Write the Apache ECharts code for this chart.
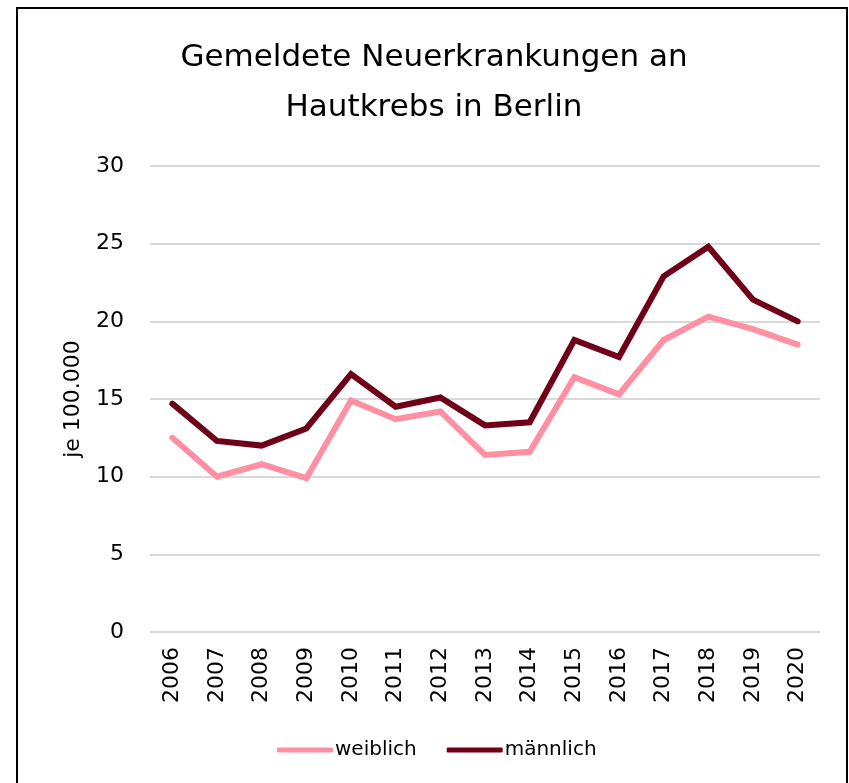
<!DOCTYPE html>
<html>
<head>
<meta charset="utf-8">
<script src="https://cdn.jsdelivr.net/npm/echarts@6/dist/echarts.min.js"></script>
<style>
html,body{margin:0;padding:0;background:#fff;}
#chart{width:849px;height:783px;}
</style>
</head>
<body>
<div id="chart"></div>
<script>
const years = ['2006','2007','2008','2009','2010','2011','2012','2013','2014','2015','2016','2017','2018','2019','2020'];
const weiblich = [12.5, 10.0, 10.8, 9.9, 14.9, 13.7, 14.2, 11.4, 11.6, 16.4, 15.3, 18.8, 20.3, 19.5, 18.5];
const maennlich = [14.7, 12.3, 12.0, 13.1, 16.6, 14.5, 15.1, 13.3, 13.5, 18.8, 17.7, 22.9, 24.8, 21.4, 20.0];
const yTicks = [0, 5, 10, 15, 20, 25, 30];

const FONT = 'DejaVu Sans';
const chart = echarts.init(document.getElementById('chart'), null, {renderer: 'canvas'});
chart.setOption({
  animation: false,
  backgroundColor: '#fff',
  title: {
    text: 'Gemeldete Neuerkrankungen an\nHautkrebs in Berlin',
    left: 429,
    top: 28,
    textAlign: 'center',
    textStyle: {fontFamily: FONT, fontSize: 31, fontWeight: 'normal', color: '#000', lineHeight: 50}
  },
  graphic: [{
    type: 'rect',
    shape: {x: 17, y: 8, width: 830, height: 820},
    style: {fill: 'none', stroke: '#000', lineWidth: 2},
    silent: true
  }],
  legend: {
    left: 272,
    top: 735,
    itemWidth: 56,
    itemHeight: 5,
    itemGap: 30,
    icon: 'roundRect',
    data: ['weiblich', 'männlich'],
    textStyle: {fontFamily: FONT, fontSize: 20, color: '#000', padding: [0, 0, 0, -3]}
  },
  grid: {left: 150, right: 29, top: 166, bottom: 151, containLabel: false},
  xAxis: {
    type: 'category',
    data: years,
    boundaryGap: true,
    axisLine: {show: false},
    axisTick: {show: false},
    axisLabel: {rotate: 90, fontFamily: FONT, fontSize: 22, color: '#000', margin: 15, interval: 0}
  },
  yAxis: {
    type: 'value',
    min: yTicks[0],
    max: yTicks[yTicks.length - 1],
    interval: 5,
    name: 'je 100.000',
    nameLocation: 'middle',
    nameRotate: 90,
    nameGap: 66,
    nameTextStyle: {fontFamily: FONT, fontSize: 22, color: '#000'},
    axisLine: {show: false},
    axisTick: {show: false},
    axisLabel: {fontFamily: FONT, fontSize: 22, color: '#000', margin: 26},
    splitLine: {lineStyle: {color: '#D9D9D9', width: 2}}
  },
  series: [
    {
      name: 'weiblich', type: 'line', data: weiblich, symbol: 'none',
      lineStyle: {color: '#FF8FA3', width: 6, cap: 'round', join: 'miter'},
      itemStyle: {color: '#FF8FA3'}
    },
    {
      name: 'männlich', type: 'line', data: maennlich, symbol: 'none',
      lineStyle: {color: '#700018', width: 6, cap: 'round', join: 'miter'},
      itemStyle: {color: '#700018'}
    }
  ]
});
</script>
</body>
</html>
